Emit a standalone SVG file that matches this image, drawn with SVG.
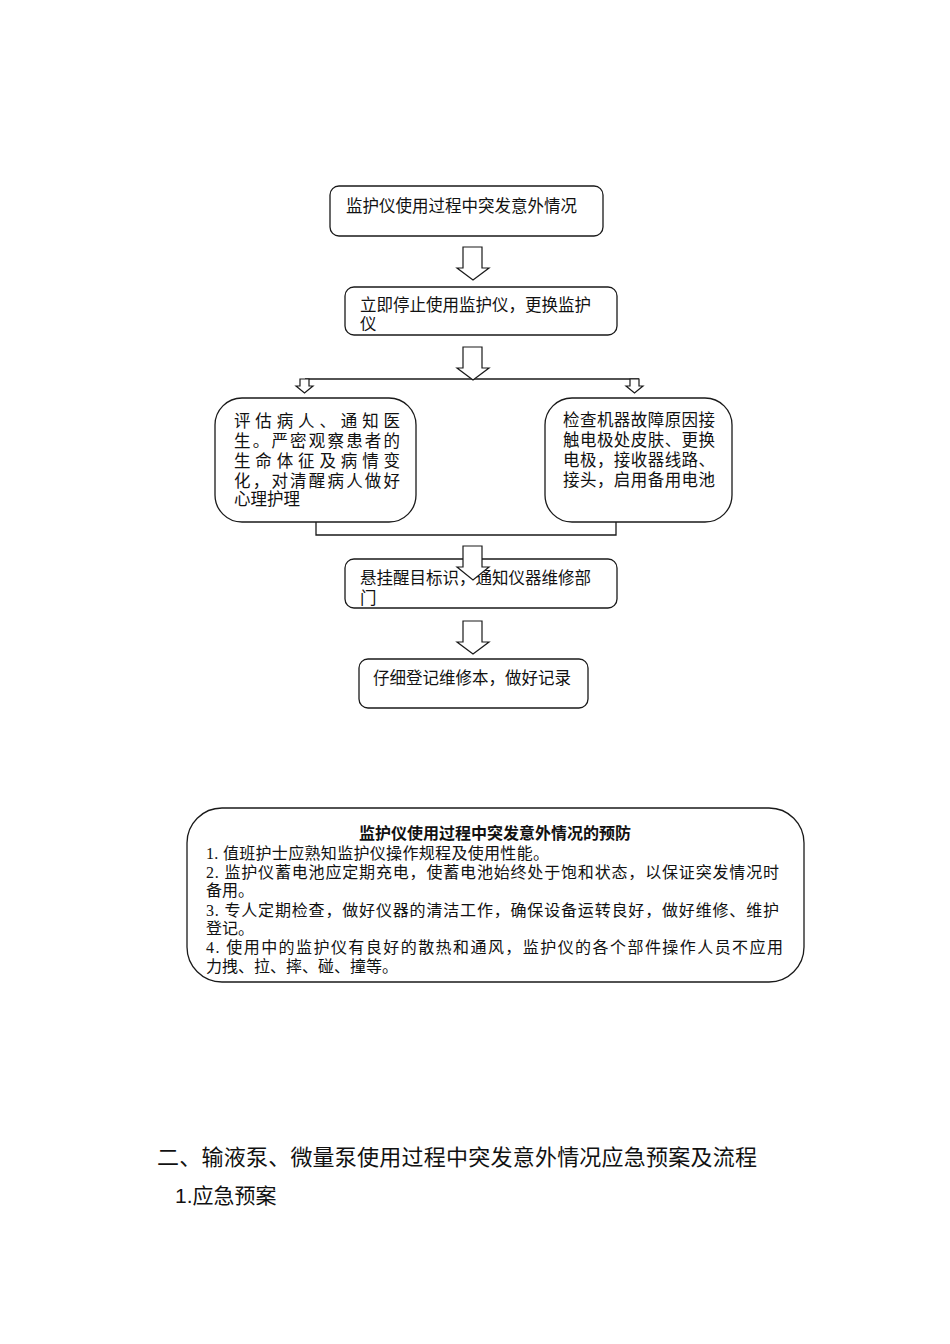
<svg xmlns="http://www.w3.org/2000/svg" width="950" height="1344" viewBox="0 0 950 1344">
<style>
.box{fill:#fff;stroke:#1a1a1a;stroke-width:1.3}
.arr{fill:#fff;stroke:#1a1a1a;stroke-width:1.2;stroke-linejoin:miter}
.ln{fill:none;stroke:#1a1a1a;stroke-width:1.3}
.t{font-family:"Liberation Sans","Noto Sans CJK SC",sans-serif;font-size:16.5px;fill:#111}
.p{font-family:"Liberation Serif","Noto Sans CJK SC",serif;font-size:16px;fill:#111}
.pt{font-family:"Liberation Sans","Noto Sans CJK SC",sans-serif;font-size:16px;font-weight:bold;fill:#111}
.h{font-family:"Liberation Sans","Noto Sans CJK SC",sans-serif;fill:#111}
</style>
<rect width="950" height="1344" fill="#fff"/>
<g id="connectors">
<path class="ln" d="M305,379 H639"/>
<path class="ln" d="M316,522 V535 H616 V522"/>
<path class="arr" d="M463,247 H482 V268 H489 L473,280 L457,268 H463 Z"/>
<path class="arr" d="M463,347 H482 V368 H489 L473,380 L457,368 H463 Z"/>
<path class="arr" d="M300,379 H309 V386 H313 L304.5,393 L296,386 H300 Z"/>
<path class="arr" d="M630,379 H639 V386 H643 L634.5,393 L626,386 H630 Z"/>
<path class="arr" d="M463,621 H482 V642 H489 L473,654 L457,642 H463 Z"/>
</g>
<g id="n1">
<rect class="box" x="330" y="186" width="273" height="50" rx="9"/>
<text class="t" x="346" y="212">监护仪使用过程中突发意外情况</text>
</g>
<g id="n2">
<rect class="box" x="345" y="287" width="272" height="48" rx="9"/>
<text class="t" x="360" y="311">立即停止使用监护仪，更换监护</text>
<text class="t" x="360" y="330">仪</text>
</g>
<g id="n3">
<rect class="box" x="215" y="398" width="201" height="124" rx="27"/>
<text class="t" x="234" y="427" textLength="166" lengthAdjust="spacing">评估病人、通知医</text>
<text class="t" x="234" y="447" textLength="166" lengthAdjust="spacing">生。严密观察患者的</text>
<text class="t" x="234" y="467" textLength="166" lengthAdjust="spacing">生命体征及病情变</text>
<text class="t" x="234" y="487" textLength="166" lengthAdjust="spacing">化，对清醒病人做好</text>
<text class="t" x="234" y="505">心理护理</text>
</g>
<g id="n4">
<rect class="box" x="545" y="398" width="187" height="124" rx="27"/>
<text class="t" x="563" y="426" textLength="152" lengthAdjust="spacing">检查机器故障原因接</text>
<text class="t" x="563" y="446" textLength="152" lengthAdjust="spacing">触电极处皮肤、更换</text>
<text class="t" x="563" y="466" textLength="152" lengthAdjust="spacing">电极，接收器线路、</text>
<text class="t" x="563" y="486" textLength="152" lengthAdjust="spacing">接头，启用备用电池</text>
</g>
<g id="n5">
<rect class="box" x="345" y="559" width="272" height="49" rx="9"/>
<text class="t" x="360" y="584">悬挂醒目标识，通知仪器维修部</text>
<text class="t" x="360" y="604">门</text>
</g>
<g id="arrow3">
<path class="arr" d="M463,546 H482 V567 H489 L473,580 L457,567 H463 Z"/>
</g>
<g id="n6">
<rect class="box" x="359" y="659" width="229" height="49" rx="9"/>
<text class="t" x="373" y="684">仔细登记维修本，做好记录</text>
</g>
<g id="n7">
<rect class="box" x="187" y="808" width="617" height="174" rx="35"/>
<text class="pt" x="495" y="839" text-anchor="middle">监护仪使用过程中突发意外情况的预防</text>
<text class="p" x="206" y="859" textLength="343" lengthAdjust="spacing">1. 值班护士应熟知监护仪操作规程及使用性能。</text>
<text class="p" x="206" y="878" textLength="573" lengthAdjust="spacing">2. 监护仪蓄电池应定期充电，使蓄电池始终处于饱和状态，以保证突发情况时</text>
<text class="p" x="206" y="896">备用。</text>
<text class="p" x="206" y="916" textLength="573" lengthAdjust="spacing">3. 专人定期检查，做好仪器的清洁工作，确保设备运转良好，做好维修、维护</text>
<text class="p" x="206" y="934">登记。</text>
<text class="p" x="206" y="953" textLength="577" lengthAdjust="spacing">4.  使用中的监护仪有良好的散热和通风，监护仪的各个部件操作人员不应用</text>
<text class="p" x="206" y="972" textLength="192" lengthAdjust="spacing">力拽、拉、摔、碰、撞等。</text>
</g>
<text class="h" x="157" y="1165" font-size="22" textLength="600" lengthAdjust="spacing">二、输液泵、微量泵使用过程中突发意外情况应急预案及流程</text>
<text class="h" x="175" y="1203" font-size="21">1.应急预案</text>
</svg>
